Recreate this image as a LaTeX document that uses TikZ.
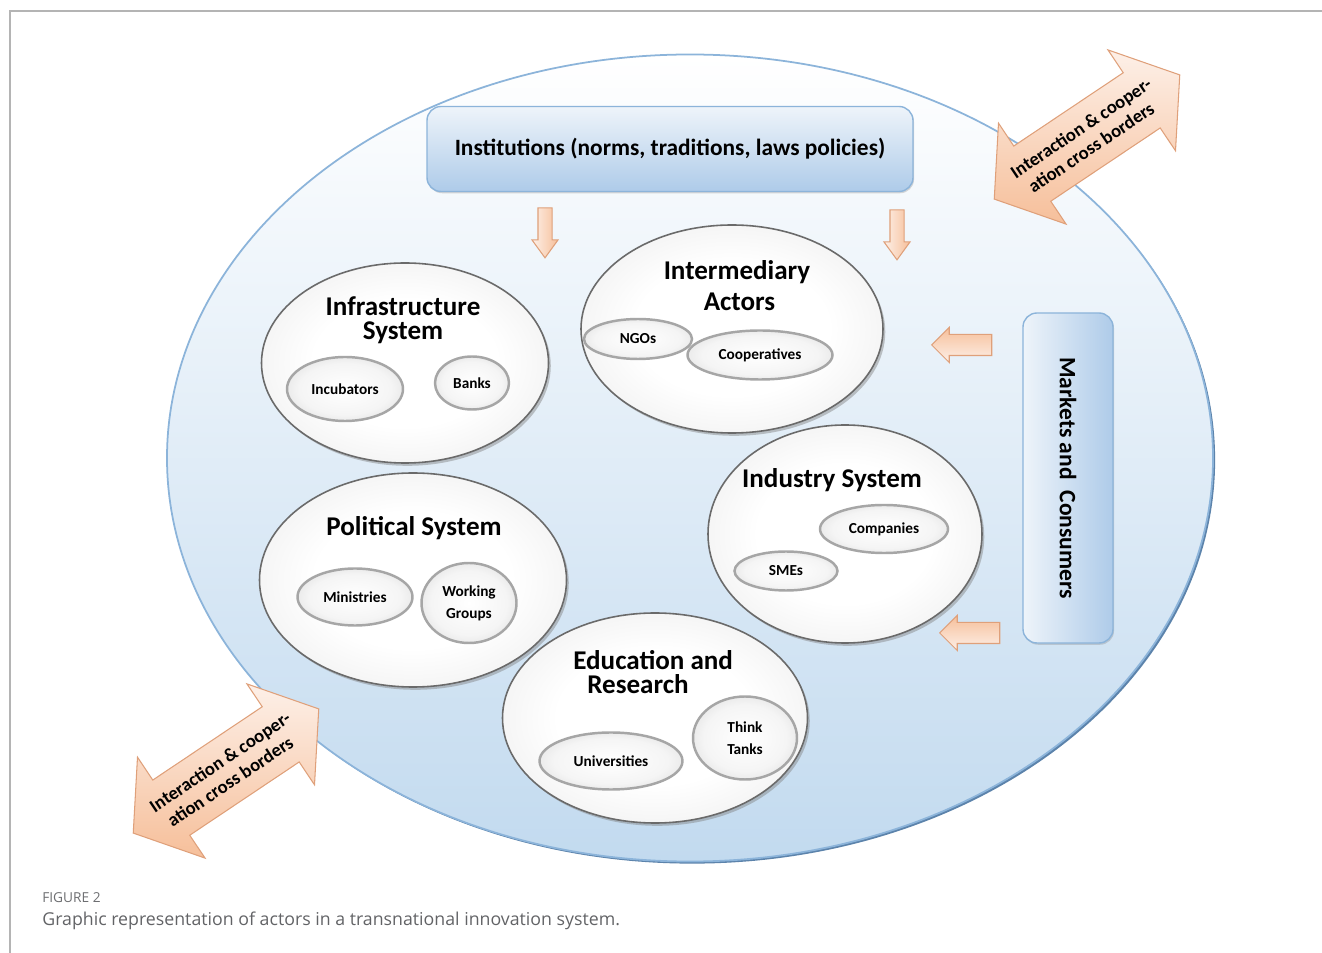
\documentclass[tikz,border=0pt]{standalone}
\usepackage{fontspec}
\setmainfont{Carlito}
\newfontfamily\capfont{Open Sans}
\usepackage{tikz}
\usetikzlibrary{shapes.geometric,shapes.arrows,shadows,positioning}
\definecolor{TISBlueEdge}{HTML}{8CB4DA}
\definecolor{TISBlueDark}{HTML}{4A76A2}
\definecolor{TISBlueFill}{HTML}{C2DAEF}
\definecolor{TISBoxTop}{HTML}{EEF4FA}
\definecolor{TISBoxBot}{HTML}{AECBE9}
\definecolor{TISPeachTop}{HTML}{FDF0E8}
\definecolor{TISPeachBot}{HTML}{F6BF9A}
\definecolor{TISPeachEdge}{HTML}{DFA07A}
\definecolor{TISGrayEdge}{HTML}{6A6A6A}
\definecolor{TISGrayFill}{HTML}{CFCFCF}
\definecolor{TISSubEdge}{HTML}{A6A6A6}
\definecolor{TISCaption}{HTML}{6D6E71}
\definecolor{TISFrame}{HTML}{B4B4B4}
% white centre, grey towards the rim
\pgfdeclareradialshading{TISglass}{\pgfpoint{0bp}{0bp}}{color(0bp)=(white); color(16bp)=(white); color(36bp)=(TISGrayFill!45); color(50bp)=(TISGrayFill); color(60bp)=(TISGrayFill)}
\pgfdeclareradialshading{TISbubble}{\pgfpoint{0bp}{0bp}}{color(0bp)=(white); color(20bp)=(white!96!black); color(50bp)=(TISGrayFill!90!black); color(60bp)=(TISGrayFill!90!black)}

\begin{document}
\begin{tikzpicture}[
  x=0.2mm,y=-0.2mm,
  nation/.style={ellipse,draw=TISBlueEdge,line width=1pt,top color=white,bottom color=TISBlueFill,
    drop shadow={shadow xshift=1.2pt,shadow yshift=-1.2pt,fill=TISBlueDark,opacity=0.9}},
  system/.style={ellipse,draw=TISGrayEdge,line width=0.9pt,shading=TISglass,
    drop shadow={shadow xshift=1.3pt,shadow yshift=-1.6pt,opacity=0.45}},
  actor/.style={ellipse,draw=TISSubEdge,line width=1.4pt,shading=TISbubble,
    font=\bfseries\fontsize{8.7}{12.5}\selectfont,align=center,inner sep=0pt},
  systitle/.style={font=\bfseries\fontsize{15.4}{13.8}\selectfont,align=center,inner sep=0pt},
  bluebox/.style={draw=TISBlueEdge,line width=0.8pt,rounded corners=2.8mm,
    drop shadow={shadow xshift=0.6pt,shadow yshift=-1pt,opacity=0.3}},
  peach/.style={draw=TISPeachEdge,line width=0.6pt},
  downarrow/.style={peach,single arrow,rotate=-90,left color=TISPeachTop,right color=TISPeachBot,
    minimum height=10mm,inner sep=1.3mm,single arrow head extend=1.2mm,single arrow tip angle=72},
  leftarrow/.style={peach,single arrow,rotate=180,top color=TISPeachBot,bottom color=TISPeachTop,
    minimum height=12mm,inner sep=2mm,single arrow head extend=1.4mm,single arrow tip angle=90},
  crossarrow/.style={peach,double arrow,rotate=33.8,top color=TISPeachTop,bottom color=TISPeachBot,
    minimum height=43.5mm,inner xsep=0.7mm,inner ysep=3mm,double arrow head extend=5.5mm,
    double arrow tip angle=106,font=\bfseries\fontsize{10.6}{12.6}\selectfont,align=left}
]
  \useasboundingbox (0,0) rectangle (1322,953);
  % page frame
  \draw[TISFrame,line width=1.1pt] (10,953) -- (10,11) -- (1322,11);

  % the transnational space
  \node[nation,minimum width=209.2mm,minimum height=161.4mm] (space) at (690,458) {};

  % institutions and markets
  \node[bluebox,top color=TISBoxTop,bottom color=TISBoxBot,minimum width=97.2mm,minimum height=17mm,
    font=\bfseries\fontsize{13.3}{15}\selectfont] (inst) at (670,149) {Institutions (norms, traditions, laws policies)};
  \node[bluebox,rotate=-90,left color=TISBoxTop,right color=TISBoxBot,minimum width=66mm,minimum height=18mm,
    font=\bfseries\fontsize{13.4}{15}\selectfont] (market) at (1068,478) {Markets and\ \ Consumers};

  \node[downarrow] (instA) at (545,228) {};
  \node[downarrow] (instB) at (897,230) {};
  \node[leftarrow] (marketA) at (967,345) {};
  \node[leftarrow] (marketB) at (975,633) {};

  % infrastructure
  \node[system,minimum width=57.4mm,minimum height=40mm] (infra) at (405,363) {};
  \node[systitle] (infraT) at (403,320) {Infrastructure\\System};
  \node[actor,minimum width=23.2mm,minimum height=12.8mm] (incub) at (345,389) {Incubators};
  \node[actor,minimum width=14.8mm,minimum height=10.6mm] (banks) at (472,383) {Banks};

  % intermediary actors
  \node[system,minimum width=60.4mm,minimum height=41.6mm] (inter) at (732,329) {};
  \node[systitle] (interT) at (737,286) {Intermediary\\[3.8pt]\hspace*{1mm}Actors};
  \node[actor,minimum width=21.6mm,minimum height=8mm] (ngo) at (638,339) {NGOs};
  \node[actor,minimum width=29mm,minimum height=9.8mm] (coop) at (760,355) {Cooperatives};

  % political system
  \node[system,minimum width=61.4mm,minimum height=42.8mm] (polit) at (413,580) {};
  \node[systitle] (politT) at (414,528) {Political System};
  \node[actor,minimum width=23mm,minimum height=11.4mm] (minis) at (355,597) {Ministries};
  \node[actor,minimum width=19mm,minimum height=16mm] (workg) at (469,603) {Working\\Groups};

  % industry system
  \node[system,minimum width=54.8mm,minimum height=43.6mm] (indus) at (845,534) {};
  \node[systitle] (indusT) at (832,480) {Industry System};
  \node[actor,minimum width=25.6mm,minimum height=9.6mm] (comp) at (884,529) {Companies};
  \node[actor,minimum width=20.6mm,minimum height=7.8mm] (sme) at (786,571) {SMEs};

  % education and research
  \node[system,minimum width=61mm,minimum height=42mm] (educ) at (655,718) {};
  \node[systitle,anchor=west,align=left] (educT) at (573,672) {Education and\\\hspace*{2.8mm}Research};
  \node[actor,minimum width=28.6mm,minimum height=11.4mm] (univ) at (611,761) {Universities};
  \node[actor,minimum width=20.8mm,minimum height=16.6mm] (think) at (745,738) {Think\\Tanks};

  % cross-border cooperation
  \node[crossarrow] (crossNE) at (1087,137) {Interaction \& cooper-\\\hspace*{0.35em}ation cross borders};
  \node[crossarrow] (crossSW) at (226,771) {Interaction \& cooper-\\\hspace*{0.35em}ation cross borders};

  % caption
  \node[anchor=west,inner sep=0pt,text=TISCaption,font=\capfont\fontsize{7.8}{9}\selectfont] (figlabel) at (42,898) {FIGURE 2};
  \node[anchor=west,inner sep=0pt,text=TISCaption!90!black,font=\capfont\fontsize{10.1}{12}\selectfont] (figtext) at (42,921)
    {Graphic representation of actors in a transnational innovation system.};
\end{tikzpicture}
\end{document}
